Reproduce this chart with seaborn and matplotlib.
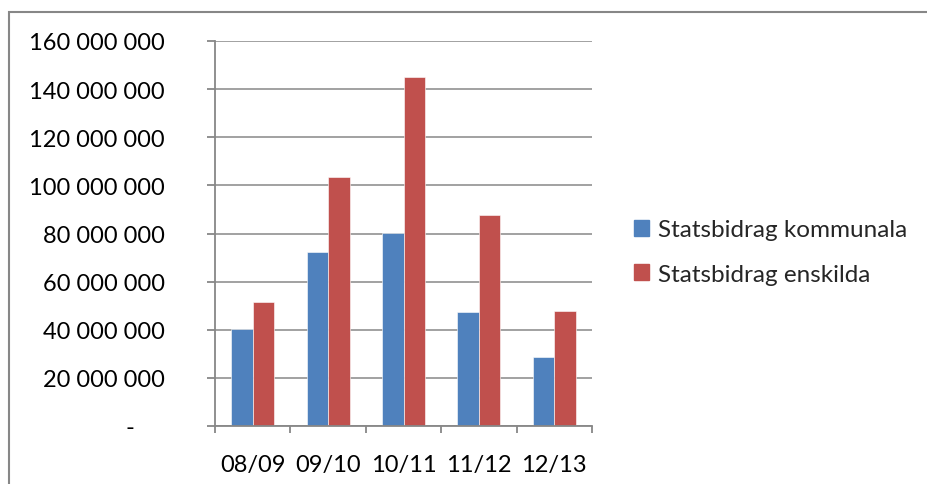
import matplotlib
matplotlib.use("Agg")
import matplotlib.pyplot as plt
import matplotlib.patches as mpatches
import pandas as pd
import seaborn as sns
from matplotlib.ticker import FixedLocator, FuncFormatter

# Chart data
years = ["08/09", "09/10", "10/11", "11/12", "12/13"]
kommunala = [40_300_000, 72_200_000, 80_400_000, 47_200_000, 28_500_000]
enskilda = [51_400_000, 103_600_000, 144_900_000, 87_800_000, 47_700_000]
series_names = ["Statsbidrag kommunala", "Statsbidrag enskilda"]
y_ticks = [0, 20_000_000, 40_000_000, 60_000_000, 80_000_000,
           100_000_000, 120_000_000, 140_000_000, 160_000_000]

BLUE = "#4F81BD"
RED = "#C0504D"
GRAY = "#878787"

df = pd.DataFrame({
    "year": years * 2,
    "value": kommunala + enskilda,
    "series": [series_names[0]] * len(years) + [series_names[1]] * len(years),
})

sns.set_style("white")
plt.rcParams["font.family"] = ["Lato", "DejaVu Sans"]
plt.rcParams["font.size"] = 17

fig = plt.figure(figsize=(9.27, 4.85), dpi=100)
ax = fig.add_axes([215 / 927, 1 - 427 / 485, (592 - 215) / 927, (427 - 42) / 485])

sns.barplot(data=df, x="year", y="value", hue="series", order=years,
            hue_order=series_names, palette=[BLUE, RED], width=0.57,
            edgecolor="white", linewidth=0.4, saturation=1, ax=ax, legend=False)

ax.set_xlim(-0.5, 4.5)
ax.set_ylim(0, 160_000_000)
ax.set_xlabel("")
ax.set_ylabel("")

# gridlines and axes
ax.yaxis.set_major_locator(FixedLocator(y_ticks))
ax.yaxis.grid(True, color=GRAY, linewidth=1.1)
ax.set_axisbelow(True)
for side in ["top", "right"]:
    ax.spines[side].set_visible(False)
for side in ["left", "bottom"]:
    ax.spines[side].set_visible(True)
    ax.spines[side].set_color(GRAY)
    ax.spines[side].set_linewidth(1.3)


def fmt(v, pos):
    if v == 0:
        return "-" + " " * 5
    return f"{v:,.0f}".replace(",", " ")


ax.yaxis.set_major_formatter(FuncFormatter(fmt))
ax.tick_params(axis="y", which="major", left=True, length=6, width=1.3,
               color=GRAY, pad=30, labelsize=17, labelcolor="black")

# category boundary ticks on x axis
ax.xaxis.set_minor_locator(FixedLocator([i - 0.5 for i in range(len(years) + 1)]))
ax.tick_params(axis="x", which="minor", bottom=True, length=5, width=1.3, color=GRAY)
ax.tick_params(axis="x", which="major", bottom=False, length=0, pad=20,
               labelsize=17, labelcolor="black")

# legend
handles = [mpatches.Patch(color=BLUE, label=series_names[0]),
           mpatches.Patch(color=RED, label=series_names[1])]
fig.legend(handles=handles, loc="center left",
           bbox_to_anchor=(634 / 927, 1 - 253 / 485), frameon=False,
           fontsize=17.5, handlelength=0.63, handleheight=0.63,
           handletextpad=0.35, labelspacing=0.95, borderpad=0, borderaxespad=0)

# chart area frame
frame = mpatches.Rectangle((8.5 / 927, -0.05), 1.2, 1.05 + (1 - 12.5 / 485) - 1,
                           transform=fig.transFigure, fill=False,
                           edgecolor=GRAY, linewidth=1.5, clip_on=False)
fig.patches.append(frame)

fig.savefig("out.png", dpi=100)
